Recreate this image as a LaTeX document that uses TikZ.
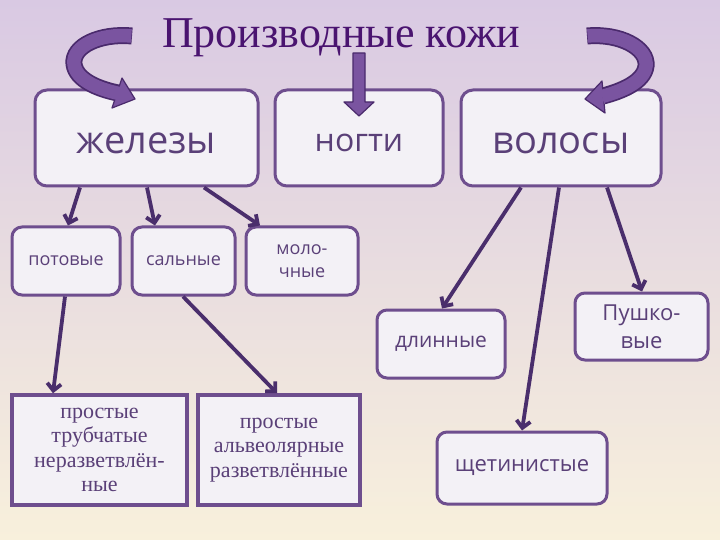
\documentclass[tikz,border=0pt]{standalone}
\usepackage{fontspec}
\setmainfont{Liberation Serif}
\newfontfamily\boxfont{Open Sans}
\newfontfamily\serbox{Liberation Serif}
\usetikzlibrary{arrows.meta}
\definecolor{bgtop}{HTML}{D9C9E3}
\definecolor{bgmid}{HTML}{F0E1CC}
\definecolor{bgbot}{HTML}{F8F0DC}
\definecolor{titlec}{HTML}{4A1470}
\definecolor{boxline}{HTML}{6E4E8E}
\definecolor{boxfill}{HTML}{F3F1F6}
\definecolor{boxtext}{HTML}{5A4078}
\definecolor{conn}{HTML}{4A2E6C}
\definecolor{arrfill}{HTML}{7A54A0}
\definecolor{arrline}{HTML}{4A2A6C}
\tikzset{
  rbox/.style={draw=boxline, line width=3pt, fill=boxfill, rounded corners=12pt,
    text=boxtext, font=\boxfont, align=center, inner sep=0pt},
  sbox/.style={draw=boxline, line width=3.5pt, fill=boxfill,
    text=boxtext, font=\serbox\fontsize{22}{24.5}\selectfont, align=center, inner sep=0pt},
  conline/.style={draw=conn, line width=3.8pt, -{Straight Barb[length=7pt,width=14pt]}},
  bigarr/.style={fill=arrfill, draw=arrline, line width=1.2pt, line join=round}
}
\begin{document}
\begin{tikzpicture}[x=1pt,y=-1pt]
\useasboundingbox (0,0) rectangle (720,540);
\shade[top color=bgtop, middle color=bgmid, bottom color=bgbot] (0,0) rectangle (720,540);

% title
\node[text=titlec, font=\fontsize{44}{46}\selectfont, inner sep=0pt] (title) at (341,38) {Производные кожи};

% main boxes
\node[rbox, minimum width=223, minimum height=96, text height=32pt, text depth=0pt, font=\boxfont\fontsize{38}{40}\selectfont] (zhel) at (146.5,138) {железы};
\node[rbox, minimum width=168, minimum height=96, text height=27pt, text depth=0pt, font=\boxfont\fontsize{32}{34}\selectfont] (nogti) at (359,138) {ногти};
\node[rbox, minimum width=200, minimum height=96, text height=32pt, text depth=0pt, font=\boxfont\fontsize{38}{40}\selectfont] (volosy) at (561,138) {волосы};

% second level
\node[rbox, rounded corners=10pt, minimum width=108, minimum height=68, font=\boxfont\fontsize{18}{23}\selectfont] (potov) at (66,261) {потовые};
\node[rbox, rounded corners=10pt, minimum width=103, minimum height=68, font=\boxfont\fontsize{18}{23}\selectfont] (saln) at (183.5,261) {сальные};
\node[rbox, rounded corners=10pt, minimum width=112, minimum height=68, font=\boxfont\fontsize{18}{23}\selectfont] (molo) at (302,261) {моло-\\чные};
\node[rbox, rounded corners=10pt, minimum width=128, minimum height=68, font=\boxfont\fontsize{21}{24}\selectfont] (dlin) at (441,344) {длинные};
\node[rbox, rounded corners=10pt, minimum width=133, minimum height=67, font=\boxfont\fontsize{22}{28}\selectfont] (push) at (641.5,326.5) {Пушко-\\вые};
\node[rbox, rounded corners=10pt, minimum width=170, minimum height=72, font=\boxfont\fontsize{22}{24}\selectfont] (shchet) at (522,468) {щетинистые};

% serif boxes
\node[sbox, minimum width=175, minimum height=110] (prost1) at (99.5,450) {простые\\трубчатые\\неразветвлён-\\ные};
\node[sbox, minimum width=162, minimum height=110] (prost2) at (279,450) {простые\\альвеолярные\\разветвлённые};

% connectors
\draw[conline] ([xshift=-66.5]zhel.south) -- ([xshift=2]potov.north);
\draw[conline] ([xshift=0.5]zhel.south) -- ([xshift=-28.5]saln.north);
\draw[conline] ([xshift=57.5]zhel.south) -- ([xshift=-42]molo.north);
\draw[conline] ([xshift=-1]potov.south) -- ([xshift=-46.5]prost1.north);
\draw[conline] ([xshift=-0.5]saln.south) -- ([xshift=-2]prost2.north);
\draw[conline] ([xshift=-40]volosy.south) -- ([xshift=1]dlin.north);
\draw[conline] ([xshift=-2]volosy.south) -- ([xshift=0]shchet.north);
\draw[conline] ([xshift=46]volosy.south) -- ([xshift=0.5]push.north);

% middle big arrow
\draw[bigarr] (353,53) -- (365,53) -- (365,102) -- (374,102) -- (359,116) -- (344,102) -- (353,102) -- cycle;

% left curved arrow
\draw[arrline, line width=17pt] (132,36) .. controls (100,33) and (72,46) .. (74,64) .. controls (76,80) and (98,89) .. (118,93);
\draw[bigarr] (122,78) -- (135,99) -- (112,108) -- cycle;
\draw[arrfill, line width=13.5pt] (131.4,36) .. controls (100,33) and (72,46) .. (74,64) .. controls (76,80) and (98,89) .. (119,93.5);

% right curved arrow
\draw[arrline, line width=17pt] (587,36) .. controls (620,33) and (648,48) .. (646,66) .. controls (644,82) and (622,91) .. (603,96);
\draw[bigarr] (602,81) -- (585,99) -- (605,113) -- cycle;
\draw[arrfill, line width=13.5pt] (587.6,36) .. controls (620,33) and (648,48) .. (646,66) .. controls (644,82) and (622,91) .. (602,96.5);
\end{tikzpicture}
\end{document}
